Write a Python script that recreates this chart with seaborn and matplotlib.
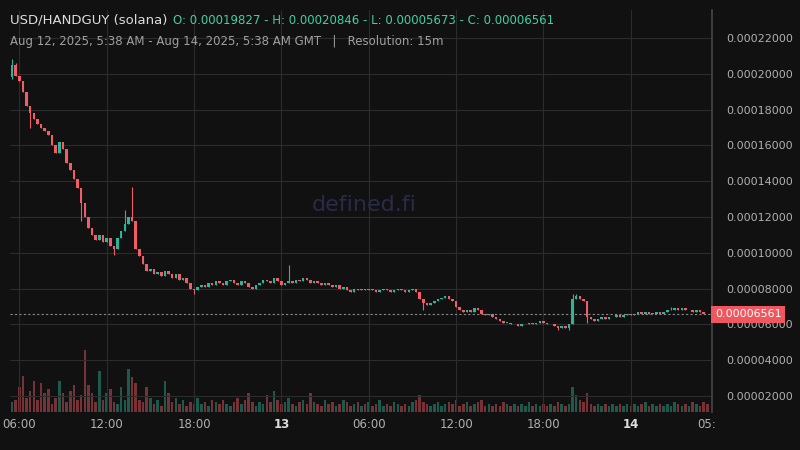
import matplotlib
matplotlib.use("Agg")
import matplotlib.pyplot as plt
import seaborn as sns
import numpy as np

closes = [0.000205,0.000199,0.000196,0.000190,0.000182,0.000178,0.000175,0.000172,0.000170,0.000168,0.000166,0.000160,
0.000156,0.000162,0.000158,0.000150,0.000146,0.000141,0.000136,0.000128,0.000120,0.000114,0.000110,0.000107,
0.000110,0.000106,0.000108,0.000104,0.000102,0.000108,0.000112,0.000116,0.000120,0.000118,0.000102,0.000098,
0.000094,0.000090,0.000091,0.000088,0.000089,0.000087,0.000090,0.000088,0.000086,0.000088,0.000085,0.000086,
0.000083,0.000080,0.000079,0.000081,0.000082,0.000081,0.000083,0.000082,0.000084,0.000083,0.000082,0.000084,
0.000085,0.000083,0.000082,0.000084,0.000083,0.000081,0.000080,0.000082,0.000083,0.000085,0.000084,0.000083,
0.000086,0.000084,0.000082,0.000083,0.000084,0.000083,0.000085,0.000084,0.000086,0.000085,0.000083,0.000084,
0.000083,0.000082,0.000083,0.000082,0.000081,0.000082,0.000080,0.000081,0.000079,0.000078,0.000080,0.000079,
0.000080,0.000079,0.000080,0.000079,0.000078,0.000079,0.000080,0.000079,0.000078,0.000079,0.000080,0.000079,
0.000078,0.000079,0.000080,0.000078,0.000074,0.000072,0.000071,0.000072,0.000073,0.000074,0.000075,0.000076,
0.000074,0.000073,0.000070,0.000068,0.000067,0.000068,0.000067,0.000069,0.000068,0.000066,0.000065,0.000066,
0.000064,0.000063,0.000062,0.000061,0.000061,0.000060,0.000060,0.000059,0.000060,0.000060,0.000061,0.000060,
0.000061,0.000062,0.000061,0.000060,0.000060,0.000059,0.000058,0.000059,0.000058,0.000060,0.000074,0.000076,
0.000074,0.000073,0.000064,0.000063,0.000062,0.000063,0.000064,0.000063,0.000064,0.000064,0.000065,0.000064,
0.000065,0.000066,0.000065,0.000066,0.000067,0.000066,0.000067,0.000066,0.000066,0.000067,0.000066,0.000067,
0.000068,0.000068,0.000069,0.000068,0.000069,0.000068,0.000068,0.000067,0.000068,0.000067,0.000066,0.00006561]
first_open = 0.00019827
high_wicks = {0: 0.00020846, 1: 0.000206, 18: 0.000140, 31: 0.000124, 33: 0.000137, 76: 0.000093, 154: 0.000077, 155: 0.000077, 181: 0.000070}
low_wicks = {0: 0.000197, 5: 0.000170, 19: 0.000118, 28: 0.000099, 50: 0.000077, 113: 0.000068, 150: 0.000057, 153: 0.000057, 158: 0.000061}
volumes = [10,12,24,35,14,20,30,12,28,18,22,8,
14,30,18,10,20,26,12,16,60,26,18,10,
40,12,18,22,10,8,24,12,42,34,28,12,
10,24,14,8,12,6,30,18,10,14,8,12,
6,10,8,14,8,10,6,12,10,8,12,8,
6,10,14,8,12,18,10,6,10,8,16,10,
20,12,8,10,14,8,6,10,12,8,18,10,
8,6,12,8,10,6,8,12,10,6,8,10,
6,8,10,6,8,12,6,8,6,10,8,6,
8,6,10,12,16,10,8,6,8,10,6,8,
10,8,12,6,8,10,6,8,10,12,6,8,
6,8,6,10,8,6,8,6,8,6,10,6,
8,6,8,6,8,6,10,8,6,8,24,16,
12,10,18,8,6,8,6,8,6,8,6,8,
6,8,6,8,6,8,10,6,8,6,8,6,
8,6,10,8,6,8,6,10,8,6,10,8]
tick_pos = [2, 26, 50, 74, 98, 122, 146, 170]
tick_labels = ["06:00", "12:00", "18:00", "13", "06:00", "12:00", "18:00", "14"]
price_ticks = [0.00002*k for k in range(1, 12)]

bg = "#111111"
up = "#2bb59a"; dn = "#f05d66"
sns.set_theme(style="dark", rc={"axes.facecolor": bg, "figure.facecolor": bg})

opens = [first_open] + closes[:-1]
n = len(closes)
idx = np.arange(n)
fig = plt.figure(figsize=(8, 4.5), dpi=100)
ax = fig.add_axes([10/800, 38/450, 702/800, 402/450])
ax.set_facecolor(bg)
vax = ax.twinx()
vmax = max(volumes)
vax.set_ylim(0, vmax * 402 / 62)
vcols = [up if c >= o else dn for o, c in zip(opens, closes)]
vax.bar(idx, volumes, width=0.7, color=vcols, alpha=0.45, linewidth=0)
vax.set_yticks([]); vax.set_zorder(0); ax.set_zorder(1); ax.patch.set_visible(False)

for i in range(n):
    o, c = opens[i], closes[i]
    col = up if c >= o else dn
    hi = high_wicks.get(i, max(o, c)); lo = low_wicks.get(i, min(o, c))
    ax.vlines(i, lo, hi, color=col, linewidth=0.8)
    ax.bar(i, max(abs(c - o), 2e-7), bottom=min(o, c), width=0.7, color=col, linewidth=0)

ax.set_xlim(-0.55, 192.3)
lo_p = 0.00002 - 16/35.8*0.00002; hi_p = 0.00022 + 28/35.8*0.00002
ax.set_ylim(lo_p, hi_p)
ax.set_xticks(tick_pos); ax.set_xticklabels(tick_labels)
for lab in ax.get_xticklabels():
    lab.set_color("#b0b0b0"); lab.set_fontsize(8.5)
    if lab.get_text() in ("13", "14"): lab.set_fontweight("bold"); lab.set_color("#dddddd")
ax.yaxis.tick_right()
ax.set_yticks(price_ticks)
ax.set_yticklabels([f"{v:.8f}" for v in price_ticks], color="#b0b0b0", fontsize=8)
ax.tick_params(axis="y", pad=10, length=0)
ax.tick_params(axis="x", length=0, pad=4)
ax.grid(True, color="#2c2c2c", linewidth=0.8)
for s in ax.spines.values(): s.set_visible(False)
for s in vax.spines.values(): s.set_visible(False)
ax.spines["right"].set_visible(True); ax.spines["right"].set_color("#444444")
ax.axhline(closes[-1], color="#888888", linestyle=(0, (2, 2)), linewidth=0.8)
ax.text(1.004, closes[-1], f"{closes[-1]:.8f}", transform=ax.get_yaxis_transform(),
        va="center", ha="left", fontsize=8, color="white",
        bbox=dict(boxstyle="square,pad=0.3", fc="#f0565e", ec="none"))
fig.text(697/800, 1-425/450, "05:", color="#b0b0b0", fontsize=8.5, va="center")
fig.text(0.455, 0.545, "defined.fi", color="#2a2a4a", fontsize=16, ha="center", va="center")
fig.text(10/800, 1-20/450, "USD/HANDGUY (solana)", color="#dddddd", fontsize=9.5, va="center")
fig.text(173/800, 1-20/450, "O: 0.00019827 - H: 0.00020846 - L: 0.00005673 - C: 0.00006561",
         color="#3fd0a5", fontsize=8.5, va="center")
fig.text(10/800, 1-41/450, "Aug 12, 2025, 5:38 AM - Aug 14, 2025, 5:38 AM GMT   |   Resolution: 15m",
         color="#a0a0a0", fontsize=8.5, va="center")
fig.savefig("out.png", dpi=100, facecolor=bg)
